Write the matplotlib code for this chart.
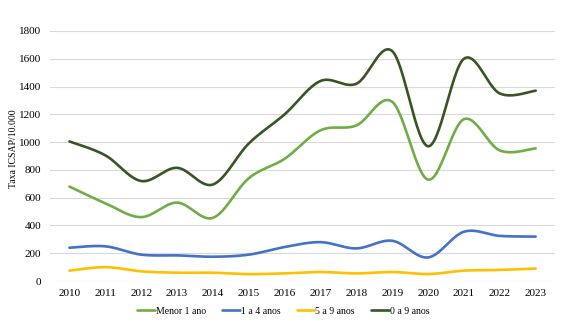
import matplotlib.pyplot as plt
import numpy as np

plt.rcParams['font.family'] = ['Liberation Serif', 'DejaVu Serif']

years = [2010, 2011, 2012, 2013, 2014, 2015, 2016, 2017, 2018, 2019, 2020, 2021, 2022, 2023]
menor_1 = [680, 560, 460, 565, 455, 740, 880, 1085, 1120, 1290, 730, 1165, 940, 955]
de_1_a_4 = [240, 250, 190, 185, 175, 190, 245, 280, 235, 290, 170, 355, 325, 320]
de_5_a_9 = [75, 100, 70, 60, 60, 50, 55, 65, 55, 65, 50, 75, 80, 90]
de_0_a_9 = [1005, 905, 720, 815, 695, 990, 1200, 1440, 1420, 1655, 970, 1600, 1350, 1370]

series = [
    ('Menor 1 ano', menor_1, '#70AD47'),
    ('1 a 4 anos', de_1_a_4, '#4472C4'),
    ('5 a 9 anos', de_5_a_9, '#FFC000'),
    ('0 a 9 anos', de_0_a_9, '#375623'),
]


def smooth(x, y, n=30):
    # Excel-like smoothed line: Catmull-Rom through the points as cubic Bezier
    x = np.asarray(x, float)
    y = np.asarray(y, float)
    px = np.concatenate([[x[0]], x, [x[-1]]])
    py = np.concatenate([[y[0]], y, [y[-1]]])
    t = np.linspace(0, 1, n)[:, None]
    xs, ys = [], []
    for i in range(1, len(px) - 2):
        p0 = np.array([px[i], py[i]])
        p3 = np.array([px[i + 1], py[i + 1]])
        p1 = p0 + (np.array([px[i + 1], py[i + 1]]) - np.array([px[i - 1], py[i - 1]])) / 6
        p2 = p3 - (np.array([px[i + 2], py[i + 2]]) - np.array([px[i], py[i]])) / 6
        b = ((1 - t) ** 3) * p0 + 3 * ((1 - t) ** 2) * t * p1 + 3 * (1 - t) * t ** 2 * p2 + t ** 3 * p3
        xs.append(b[:, 0])
        ys.append(b[:, 1])
    return np.concatenate(xs), np.concatenate(ys)


fig = plt.figure(figsize=(5.65, 3.33), dpi=100)
ax = fig.add_axes([0.088, 0.156, 0.895, 0.751])

idx = np.arange(len(years))
for name, vals, color in series:
    sx, sy = smooth(idx, vals)
    ax.plot(sx, sy, color=color, linewidth=1.9, label=name, solid_capstyle='round')

ax.set_xlim(-0.55, len(years) - 0.45)
ax.set_ylim(0, 1800)
ax.set_yticks(range(0, 1801, 200))
ax.set_xticks(idx)
ax.set_xticklabels([str(y) for y in years])
ax.grid(axis='y', color='#D9D9D9', linewidth=0.8)
ax.set_axisbelow(True)
for s in ax.spines.values():
    s.set_visible(False)
ax.tick_params(length=0, labelsize=8, pad=6)
ax.set_ylabel('Taxa ICSAP/10.000', fontsize=7)
ax.yaxis.set_label_coords(-0.063, 0.53)

ax.legend(loc='center', bbox_to_anchor=(0.462, -0.12), ncol=4, frameon=False,
          fontsize=7, handlelength=1.8, handletextpad=0.1, columnspacing=1.7)

fig.savefig('out.png', dpi=100, facecolor='white')
